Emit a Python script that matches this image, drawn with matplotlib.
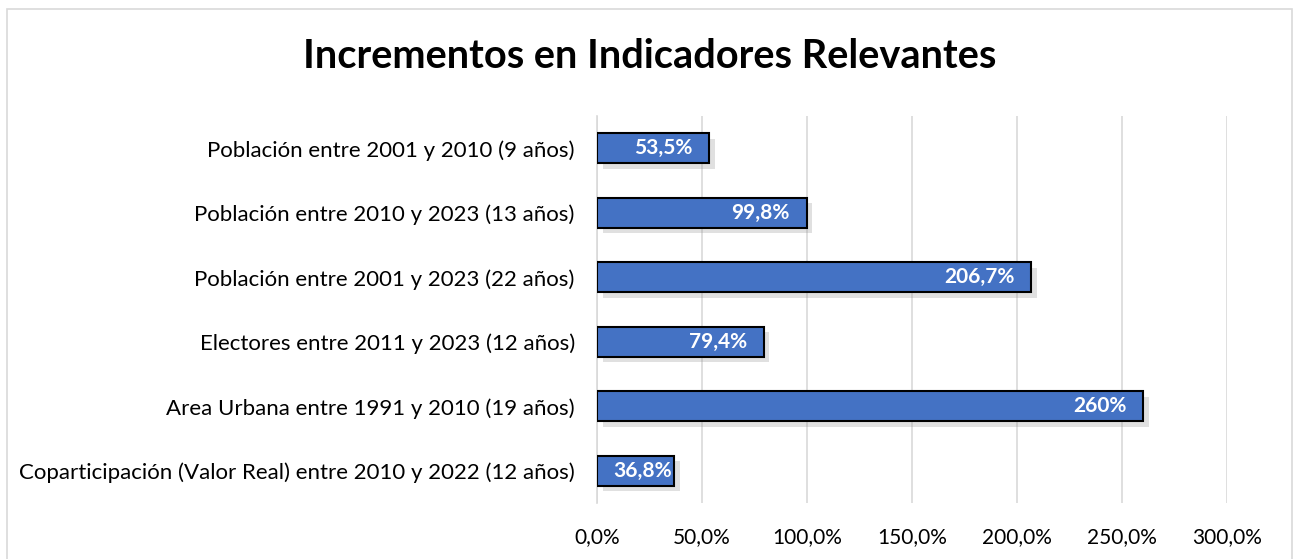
import matplotlib
matplotlib.use("Agg")
import matplotlib.pyplot as plt
import matplotlib.patheffects as pe
from matplotlib.patches import Rectangle
from matplotlib.ticker import FuncFormatter

categories = [
    "Población entre 2001 y 2010 (9 años)",
    "Población entre 2010 y 2023 (13 años)",
    "Población entre 2001 y 2023 (22 años)",
    "Electores entre 2011 y 2023 (12 años)",
    "Area Urbana entre 1991 y 2010 (19 años)",
    "Coparticipación (Valor Real) entre 2010 y 2022 (12 años)",
]
values = [53.5, 99.8, 206.7, 79.4, 260.0, 36.8]
labels = ["53,5%", "99,8%", "206,7%", "79,4%", "260%", "36,8%"]
xticks = [0, 50, 100, 150, 200, 250, 300]

plt.rcParams['font.family'] = ['Lato', 'DejaVu Sans']

fig = plt.figure(figsize=(12.98, 5.59), dpi=100)
fig.patches.append(Rectangle((7/1298, -0.01), 1285/1298, 1.01 - 9/559, transform=fig.transFigure,
                             fill=False, edgecolor='#d9d9d9', linewidth=1.2))

ax = fig.add_axes([597/1298, 56/559, 630/1298, 387/559])
y = list(range(len(categories)))
bars = ax.barh(y, values, height=0.46, color='#4472C4', edgecolor='black', linewidth=1.5,
               zorder=3)
for b in bars:
    b.set_path_effects([pe.SimplePatchShadow(offset=(4, -4), shadow_rgbFace='#999999', alpha=0.3),
                        pe.Normal()])
for yi, v, lab in zip(y, values, labels):
    off = -12 if v > 45 else -2
    ax.annotate(lab, xy=(v, yi), xytext=(off, 0), textcoords='offset points',
                ha='right', va='center', color='white', fontsize=15,
                fontweight='bold', zorder=4)

ax.set_xlim(0, 300)
ax.set_ylim(len(categories) - 0.5, -0.5)
ax.set_yticks(y)
ax.set_yticklabels(categories, fontsize=16)
ax.set_xticks(xticks)
ax.xaxis.set_major_formatter(FuncFormatter(lambda v, p: f"{v:.1f}%".replace('.', ',')))
ax.tick_params(axis='x', labelsize=15, length=0, pad=17)
ax.tick_params(axis='y', length=0, pad=16)
ax.grid(axis='x', color='#d9d9d9', linewidth=1.2, zorder=0)
for s in ['top', 'right', 'bottom']:
    ax.spines[s].set_visible(False)
ax.spines['left'].set_color('#d9d9d9')
ax.spines['left'].set_linewidth(1.2)

fig.text(650/1298, 1 - 57/559, "Incrementos en Indicadores Relevantes", ha='center', va='center',
         fontsize=28.6, fontweight='bold')

fig.savefig("out.png", dpi=100)
